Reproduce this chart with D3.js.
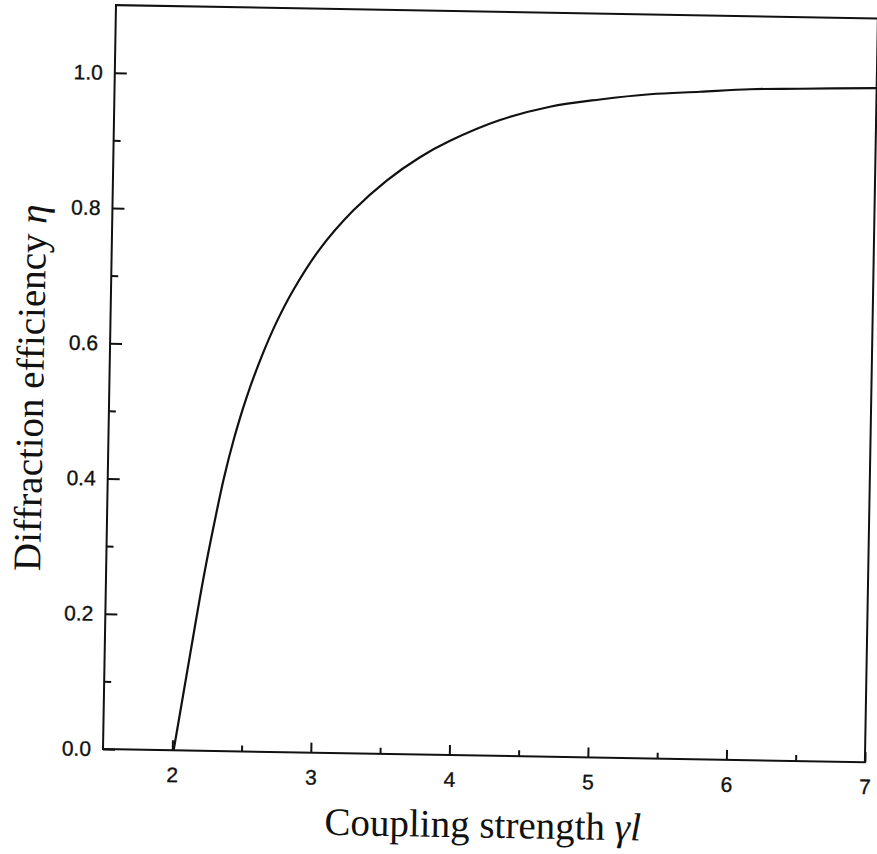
<!DOCTYPE html>
<html>
<head>
<meta charset="utf-8">
<script src="https://cdnjs.cloudflare.com/ajax/libs/d3/7.8.5/d3.min.js"></script>
<style>
  body { margin: 0; background: #fff; }
  .tick line { stroke: #111; stroke-width: 2; }
  .axis-title { font-family: "Liberation Serif", "Times New Roman", serif; font-size: 39px; fill: #111; }
</style>
</head>
<body>
<script>
// Step 0: data
// =================================
var couplingStrength = [2.01, 2.116, 2.2, 2.273, 2.339, 2.406, 2.488, 2.591, 2.702, 2.82,
  3.003, 3.236, 3.478, 3.713, 3.928, 4.286, 4.645, 5.005, 5.365, 5.726, 6.086, 6.447, 7.0];
var efficiency = [0.0, 0.141, 0.251, 0.335, 0.404, 0.462, 0.521, 0.582, 0.637, 0.685,
  0.745, 0.802, 0.848, 0.883, 0.908, 0.940, 0.961, 0.973, 0.982, 0.987, 0.992, 0.994, 0.997];

var xTickValues = [2, 3, 4, 5, 6, 7];
var xMinorTicks = [2.5, 3.5, 4.5, 5.5, 6.5];
var yTickValues = [0.0, 0.2, 0.4, 0.6, 0.8, 1.0];
var yMinorTicks = [0.1, 0.3, 0.5, 0.7, 0.9];

// Step 1: Set up our chart
//= ================================
var svgWidth = 877;
var svgHeight = 854;

var margin = {
  top: 5,
  right: 12,
  bottom: 105,
  left: 103
};

var width = svgWidth - margin.left - margin.right;
var height = svgHeight - margin.top - margin.bottom;

// Step 2: svg wrapper, the scanned figure sits about one degree off square
// =================================
var svg = d3.select("body")
  .append("svg")
  .attr("width", svgWidth)
  .attr("height", svgHeight);

var chartGroup = svg.append("g")
  .attr("transform", `rotate(1, ${margin.left}, ${margin.top + height}) translate(${margin.left}, ${margin.top})`);

// scales
var xLinearScale = d3.scaleLinear()
  .domain([1.5, 7])
  .range([0, width]);

var yLinearScale = d3.scaleLinear()
  .domain([0, 1.1])
  .range([height, 0]);

// Step 3: axes, ticks pointing inward
// =================================
var bottomAxis = d3.axisBottom(xLinearScale)
  .tickValues(xTickValues)
  .tickSizeInner(-10)
  .tickSizeOuter(0)
  .tickPadding(17)
  .tickFormat(d3.format("d"));

var bottomMinor = d3.axisBottom(xLinearScale)
  .tickValues(xMinorTicks)
  .tickSizeInner(-6)
  .tickSizeOuter(0)
  .tickFormat("");

var leftAxis = d3.axisLeft(yLinearScale)
  .tickValues(yTickValues)
  .tickSizeInner(-12)
  .tickSizeOuter(0)
  .tickPadding(12)
  .tickFormat(d3.format(".1f"));

var leftMinor = d3.axisLeft(yLinearScale)
  .tickValues(yMinorTicks)
  .tickSizeInner(-7)
  .tickSizeOuter(0)
  .tickFormat("");

chartGroup.append("g")
  .attr("transform", `translate(0, ${height})`)
  .call(bottomAxis);

chartGroup.append("g")
  .attr("transform", `translate(0, ${height})`)
  .call(bottomMinor);

chartGroup.append("g")
  .call(leftAxis);

chartGroup.append("g")
  .call(leftMinor);

chartGroup.selectAll(".domain").remove();

chartGroup.selectAll(".tick text")
  .attr("font-family", "'Liberation Sans', Arial, sans-serif")
  .attr("font-size", 21)
  .attr("fill", "#111")
  .attr("stroke", "#111")
  .attr("stroke-width", 0.35);

// frame round the plot
chartGroup.append("rect")
  .attr("x", 0)
  .attr("y", 0)
  .attr("width", width)
  .attr("height", height)
  .attr("fill", "none")
  .attr("stroke", "#111")
  .attr("stroke-width", 2);

// Step 4: the curve
// =================================
var curveData = couplingStrength.map(function (d, i) {
  return { x: d, y: efficiency[i] };
});

var lineGen = d3.line()
  .x(d => xLinearScale(d.x))
  .y(d => yLinearScale(d.y))
  .curve(d3.curveCatmullRom.alpha(0.5));

chartGroup.append("path")
  .datum(curveData)
  .attr("d", lineGen)
  .attr("fill", "none")
  .attr("stroke", "#111")
  .attr("stroke-width", 2.2);

// Step 5: axis titles
// =================================
var xTitle = chartGroup.append("text")
  .attr("class", "axis-title")
  .attr("x", width / 2)
  .attr("y", height + 82)
  .attr("text-anchor", "middle");

xTitle.append("tspan").text("Coupling strength ");
xTitle.append("tspan").attr("font-style", "italic").text("γl");

var yTitle = chartGroup.append("text")
  .attr("class", "axis-title")
  .attr("transform", "rotate(-90)")
  .attr("x", 0 - (height - 360))
  .attr("y", -66)
  .attr("text-anchor", "middle");

yTitle.append("tspan").text("Diffraction efficiency ");
yTitle.append("tspan").attr("font-style", "italic").text("η");
</script>
</body>
</html>
